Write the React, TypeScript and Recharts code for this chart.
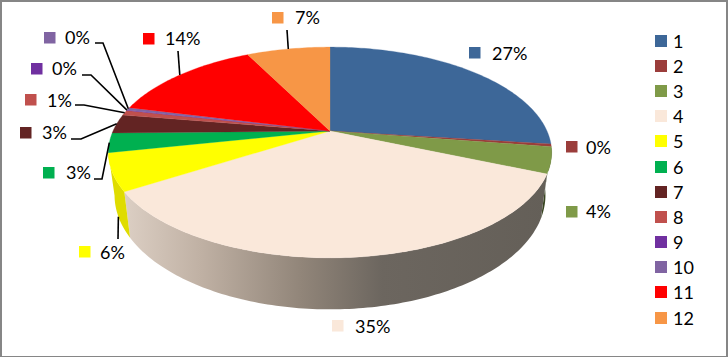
import { Legend, Pie, PieChart } from "recharts";

const names = ["1", "2", "3", "4", "5", "6", "7", "8", "9", "10", "11", "12"];
const shares = [27.0, 0.4, 4.0, 34.6, 5.7, 3.0, 2.9, 0.8, 0.1, 0.4, 13.7, 7.4];
const percentLabels = ["27%", "0%", "4%", "35%", "6%", "3%", "3%", "1%", "0%", "0%", "14%", "7%"];
const sliceColors = ["#3d6798", "#9b3d3b", "#7f9a48", "#fae8da", "#ffff00", "#00b050", "#632423", "#c0504d", "#7030a0", "#8064a2", "#ff0000", "#f79646"];
// only slices 3, 4 and 5 show their outer wall from this viewpoint
const wallColors = ["none", "none", "#394621", "url(#wall4)", "#dfdc00", "none", "none", "none", "none", "none", "none", "none"];

// where each data label sits: key square corner and text start / baseline
const keyPos = [[469, 47], [566, 141], [566, 206], [332, 320], [79, 246], [43, 167], [20, 127], [25, 94], [31, 63], [44, 32], [143, 33], [272, 12]];
const textPos = [[492, 60], [586, 154], [586, 218], [355, 333], [100, 259], [66, 179], [42, 139], [47, 107], [52, 75], [65, 44], [165, 45], [295, 24]];
// leader line points before it reaches the slice
const leaders: (number[][] | null)[] = [
  null, null, null, null,
  [[118, 239]],
  [[94, 179], [102, 179]],
  [[71, 139], [81, 139]],
  [[75, 105], [84, 105]],
  [[82, 75], [91, 75]],
  [[95, 43], [103, 43]],
  [[178, 51]],
  [[287, 30]],
];

const rows = names.map((name, i) => ({
  name,
  value: shares[i],
  fill: sliceColors[i],
  wall: wallColors[i],
  index: i,
}));

// Fake 3D: perspective projection of the unit circle, like Excel's tilted pie
const TILT = 0.4654;
const PERSP = 0.2038;
const DEPTH = 41;
const BOTTOM_SCALE = 0.972;

function rim(cx: number, cy: number, r: number, angle: number, lower = false) {
  const rad = (angle * Math.PI) / 180;
  const u = Math.cos(rad);
  const v = -Math.sin(rad);
  const s = 1 / (1 - PERSP * v);
  const x = cx + r * u * s;
  const y = cy + r * TILT * v * s;
  if (!lower) return [x, y];
  return [cx + (x - cx) * BOTTOM_SCALE, y + DEPTH * s];
}

function arc(cx: number, cy: number, r: number, from: number, to: number, lower = false) {
  const steps = Math.max(1, Math.ceil(Math.abs(to - from)));
  const pts: number[][] = [];
  for (let i = 0; i <= steps; i++) {
    pts.push(rim(cx, cy, r, from + ((to - from) * i) / steps, lower));
  }
  return pts;
}

const toPath = (pts: number[][]) =>
  pts.map((p, i) => `${i ? "L" : "M"}${p[0].toFixed(2)},${p[1].toFixed(2)}`).join(" ") + " Z";

function TopSlice(props: any) {
  const { cx, cy, outerRadius, startAngle, endAngle, fill } = props;
  const pts = [[cx, cy], ...arc(cx, cy, outerRadius, startAngle, endAngle)];
  return <path d={toPath(pts)} fill={fill} stroke={fill} strokeWidth={0.3} />;
}

function WallSlice(props: any) {
  const { cx, cy, outerRadius, startAngle, endAngle, wall } = props;
  const pts = [
    ...arc(cx, cy, outerRadius, startAngle, endAngle),
    ...arc(cx, cy, outerRadius, endAngle, startAngle, true),
  ];
  return <path d={toPath(pts)} fill={wall} />;
}

function renderLabel(props: any) {
  const { cx, cy, outerRadius, midAngle, index } = props;
  const key = keyPos[index];
  const txt = textPos[index];
  const lead = leaders[index];
  // slice 5's line stops at the wall, the others at the top rim
  const end = rim(cx, cy, outerRadius, midAngle, index === 4);
  return (
    <g key={index}>
      <rect x={key[0]} y={key[1]} width={11.5} height={11.5} fill={sliceColors[index]} />
      <text x={txt[0]} y={txt[1]} fontFamily="Lato" fontSize={18} fill="#000">
        {percentLabels[index]}
      </text>
      {lead && (
        <polyline
          points={[...lead, end].map((p) => p.join(",")).join(" ")}
          fill="none"
          stroke="#000"
          strokeWidth={1.6}
        />
      )}
    </g>
  );
}

function LegendRows({ payload }: any) {
  const entries = (payload || []).filter((entry: any) => entry.type !== "none");
  return (
    <div style={{ fontFamily: "Lato", fontSize: 18, color: "#000" }}>
      {entries.map((entry: any) => (
        <div key={entry.value} style={{ display: "flex", alignItems: "center", height: 25.2 }}>
          <span style={{ width: 12, height: 12, background: entry.color, marginRight: 6 }} />
          <span>{entry.value}</span>
        </div>
      ))}
    </div>
  );
}

export default function App() {
  return (
    <div style={{ position: "absolute", left: 0, top: 0, width: 728, height: 357, background: "#fff" }}>
      <PieChart width={728} height={357} margin={{ top: 0, right: 0, bottom: 0, left: 0 }}>
        <defs>
          <linearGradient id="wall4" gradientUnits="userSpaceOnUse" x1={124} y1={0} x2={547} y2={0}>
            <stop offset="0%" stopColor="#dccfc4" />
            <stop offset="18%" stopColor="#c0b1a4" />
            <stop offset="42%" stopColor="#918579" />
            <stop offset="61%" stopColor="#6c665f" />
            <stop offset="100%" stopColor="#645f58" />
          </linearGradient>
        </defs>
        <Pie
          data={rows}
          dataKey="value"
          nameKey="name"
          cx={330}
          cy={131}
          outerRadius={217}
          startAngle={90}
          endAngle={-270}
          stroke="none"
          legendType="none"
          shape={WallSlice}
          isAnimationActive={false}
        />
        <Pie
          data={rows}
          dataKey="value"
          nameKey="name"
          cx={330}
          cy={131}
          outerRadius={217}
          startAngle={90}
          endAngle={-270}
          stroke="none"
          legendType="square"
          shape={TopSlice}
          label={renderLabel}
          labelLine={false}
          isAnimationActive={false}
        />
        <Legend
          layout="vertical"
          align="right"
          verticalAlign="top"
          itemSorter={null}
          content={LegendRows}
          wrapperStyle={{ position: "absolute", left: 655, top: 28, width: 60, right: "auto" }}
        />
      </PieChart>
      <div
        style={{
          position: "absolute",
          inset: 0,
          boxSizing: "border-box",
          borderStyle: "solid",
          borderColor: "#868686",
          borderWidth: "2px 2px 1px 2px",
          pointerEvents: "none",
        }}
      />
    </div>
  );
}
